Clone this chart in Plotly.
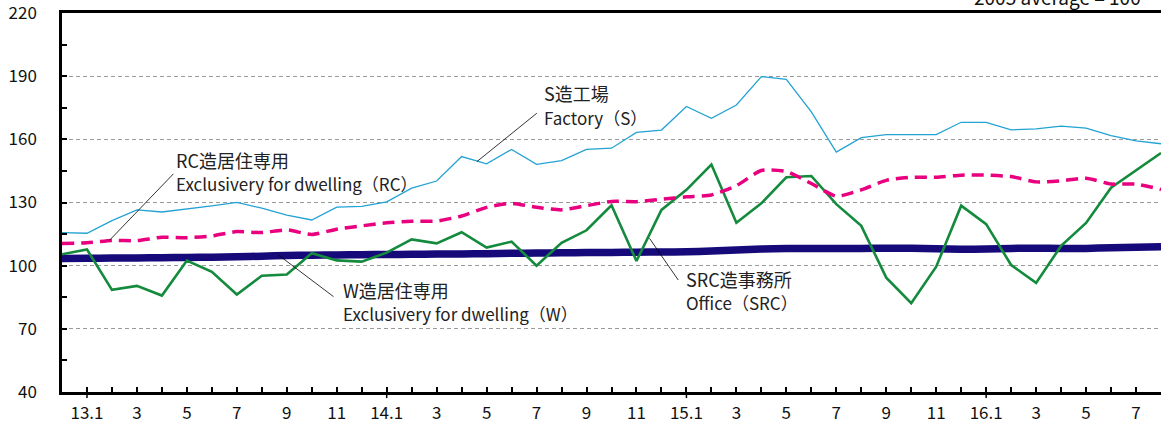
import plotly.graph_objects as go

# ---- data ----
months = ["2012-12"] + [f"{y}-{m:02d}" for y in (2013, 2014, 2015) for m in range(1, 13)] + [f"2016-{m:02d}" for m in range(1, 9)]

s_factory = [115.7, 115.4, 121.4, 126.5, 125.5, 126.9, 128.4, 130.1, 127.3, 124.0,
             121.7, 127.8, 128.2, 130.3, 136.8, 140.2, 151.8, 148.4, 155.2, 148.1,
             149.9, 155.2, 155.8, 163.3, 164.4, 175.6, 170.0, 176.3, 189.8, 188.5,
             173.0, 153.9, 160.8, 162.2, 162.2, 162.2, 168.1, 168.1, 164.5, 165.0,
             166.3, 165.3, 161.8, 159.3, 157.9]

rc_dwelling = [110.5, 110.9, 112.0, 111.9, 113.5, 113.3, 114.1, 116.2, 115.7, 117.0,
               114.8, 117.3, 118.9, 120.4, 121.1, 121.2, 123.6, 127.7, 129.6, 127.7,
               126.5, 128.5, 130.5, 130.4, 131.5, 132.7, 133.6, 138.0, 145.2, 144.7,
               139.0, 133.0, 136.0, 140.5, 142.0, 142.0, 143.0, 143.0, 142.3, 139.8,
               140.3, 141.5, 138.8, 138.7, 136.2]

w_dwelling = [103.4, 103.5, 103.6, 103.7, 103.8, 103.9, 104.0, 104.2, 104.5, 104.8,
              105.0, 105.1, 105.2, 105.3, 105.4, 105.5, 105.6, 105.7, 105.9, 106.0,
              106.1, 106.2, 106.3, 106.4, 106.5, 106.6, 107.0, 107.5, 107.9, 108.1,
              108.1, 108.1, 108.2, 108.3, 108.3, 108.0, 107.8, 107.9, 108.2, 108.3,
              108.2, 108.2, 108.5, 108.8, 109.0]

src_office = [105.4, 107.7, 88.5, 90.4, 85.8, 102.4, 97.1, 86.3, 95.2, 95.8,
              105.9, 102.5, 101.9, 106.2, 112.5, 110.6, 115.9, 108.6, 111.4, 100.0,
              110.9, 116.8, 128.7, 102.2, 126.5, 136.0, 148.0, 120.4, 129.6, 142.0,
              142.6, 129.2, 118.9, 94.3, 82.2, 99.5, 128.5, 119.7, 100.3, 91.8,
              109.4, 120.3, 137.0, 145.2, 153.5]

tick_labels = ["13.1", "3", "5", "7", "9", "11",
               "14.1", "3", "5", "7", "9", "11",
               "15.1", "3", "5", "7", "9", "11",
               "16.1", "3", "5", "7"]

y_ticks = [40, 70, 100, 130, 160, 190, 220]

# ---- figure ----
idx = list(range(len(months)))
tick_idx = [months.index("2013-01") + 2 * k for k in range(len(tick_labels))]
year_idx = [months.index(m) for m in ("2013-01", "2014-01", "2015-01", "2016-01")]

FONT = "Noto Sans CJK JP"
fig = go.Figure()

fig.add_trace(go.Scatter(x=idx, y=w_dwelling, mode="lines", name="W",
                         line=dict(color="#160a7a", width=7.5, shape="spline", smoothing=0.6)))
fig.add_trace(go.Scatter(x=idx, y=src_office, mode="lines", name="SRC",
                         line=dict(color="#138a3c", width=2.6)))
fig.add_trace(go.Scatter(x=idx, y=rc_dwelling, mode="lines", name="RC",
                         line=dict(color="#e8007f", width=3.5, dash="12px,7px",
                                   shape="spline", smoothing=0.6)))
fig.add_trace(go.Scatter(x=idx, y=s_factory, mode="lines", name="S",
                         line=dict(color="#23a2d4", width=1.3)))

fig.update_xaxes(range=[0, len(months) - 1], tickvals=tick_idx, ticktext=tick_labels,
                 ticks="inside", ticklen=5, tickwidth=1.5, tickcolor="black",
                 minor=dict(dtick=1, tick0=0, ticks="inside", ticklen=5, tickwidth=1.5,
                            tickcolor="black", showgrid=False),
                 showline=True, linewidth=2.5, linecolor="black", mirror=True,
                 showgrid=False, zeroline=False, ticklabelstandoff=4, automargin=False,
                 ticklabeloverflow="allow",
                 tickfont=dict(family=FONT, size=17, color="#111"))
fig.update_yaxes(range=[40, 220], tickvals=y_ticks, ticks="inside", ticklen=5,
                 tickwidth=1.5, tickcolor="black",
                 minor=dict(dtick=15, tick0=40, ticks="inside", ticklen=5, tickwidth=1.5,
                            tickcolor="black", showgrid=False),
                 showline=True, linewidth=2.5, linecolor="black",
                 showgrid=True, gridcolor="#9a9a9a", gridwidth=1.2, griddash="4px,3px",
                 zeroline=False, ticklabelstandoff=19, automargin=False,
                 ticklabeloverflow="allow",
                 tickfont=dict(family=FONT, size=17, color="#111"))

# crossing ticks for years
for yi in year_idx:
    fig.add_shape(type="line", xref="x", yref="paper", x0=yi, x1=yi, y0=0, y1=-0.016,
                  line=dict(color="black", width=1.5))

jp_font = dict(family=FONT, size=18, color="#222")
en_font = dict(family=FONT, size=17, color="#222")
labels = [
    ("S造工場", 19.22, 182.0, jp_font), ("Factory（S）", 19.22, 170.6, en_font),
    ("RC造居住専用", 4.49, 150.2, jp_font), ("Exclusivery for dwelling（RC）", 4.49, 138.8, en_font),
    ("W造居住専用", 11.17, 88.5, jp_font), ("Exclusivery for dwelling（W）", 11.17, 77.1, en_font),
    ("SRC造事務所", 24.91, 93.7, jp_font), ("Office（SRC）", 24.91, 82.3, en_font),
]
for txt, x, y, f in labels:
    fig.add_annotation(text=txt, x=x, y=y, xref="x", yref="y", xanchor="left",
                       yanchor="middle", showarrow=False, font=f)

leaders = [((19.01, 172.4), (16.61, 149.4)),
           ((4.46, 143.6), (1.89, 111.9)),
           ((10.87, 85.3), (8.66, 105.1)),
           ((24.67, 93.2), (23.52, 113.0))]
for (x0, y0), (x1, y1) in leaders:
    fig.add_shape(type="line", xref="x", yref="y", x0=x0, y0=y0, x1=x1, y1=y1,
                  line=dict(color="black", width=0.8))

fig.add_annotation(text="2005 average = 100", xref="paper", yref="paper",
                   x=0.9836, y=1 + 1 / 379, xanchor="right", yanchor="bottom",
                   showarrow=False, font=dict(family=FONT, size=19, color="#111"))

fig.update_layout(width=1161, height=425, margin=dict(l=62, r=0, t=13, b=33, autoexpand=False),
                  paper_bgcolor="white", plot_bgcolor="white", showlegend=False)

fig.write_html("out.html", config={"displayModeBar": False},
               post_script="document.body.style.margin='0';document.body.style.overflow='hidden';")
